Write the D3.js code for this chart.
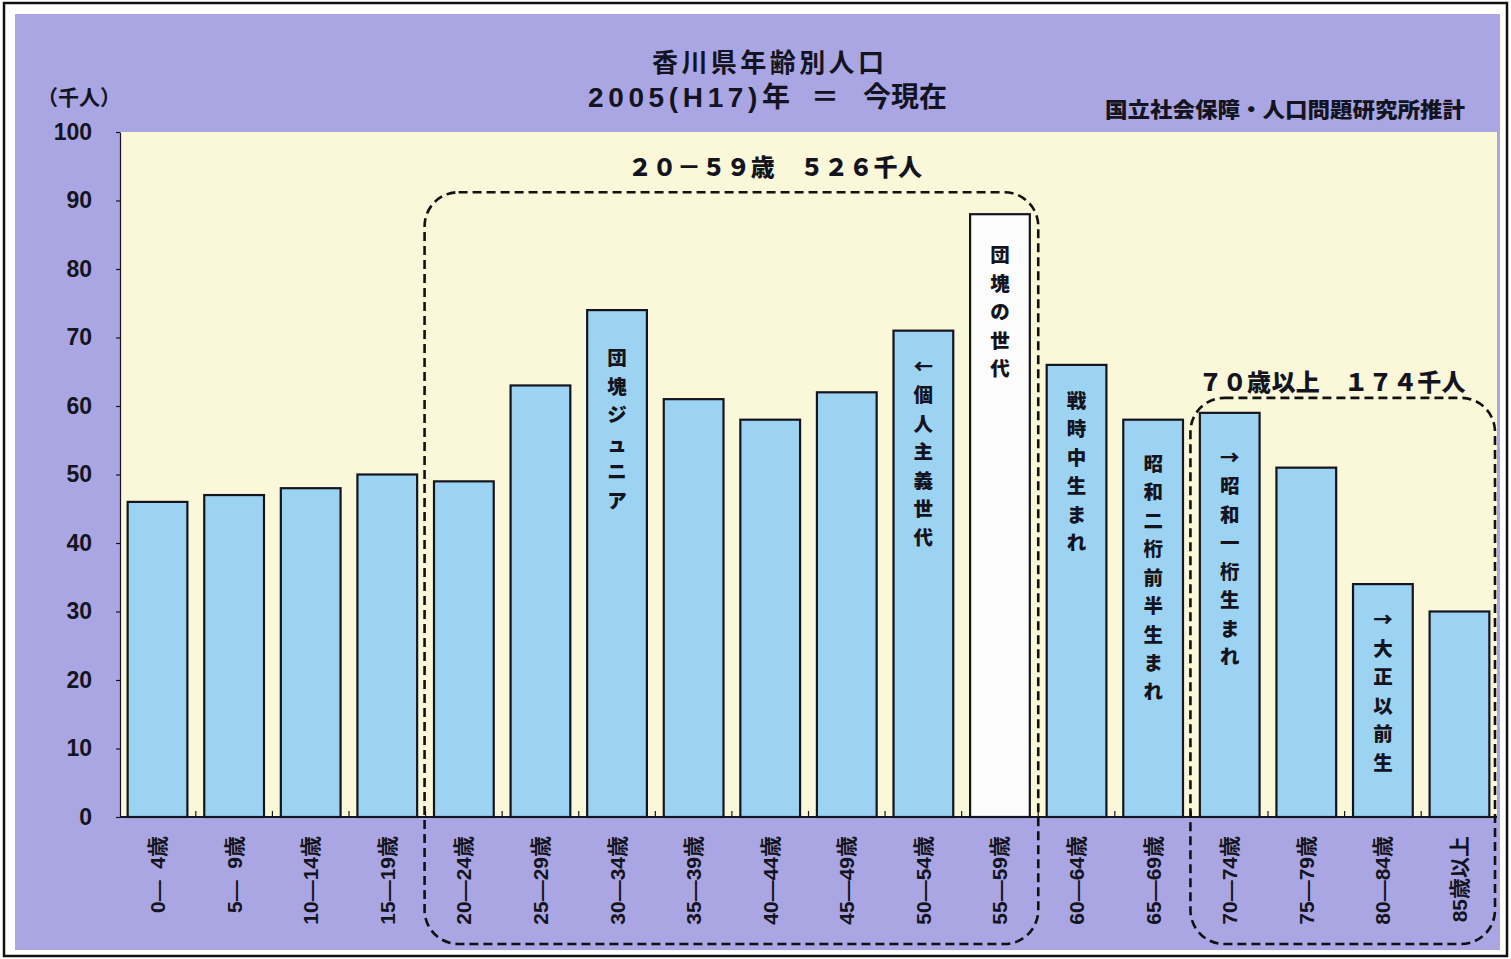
<!DOCTYPE html>
<html lang="ja">
<head>
<meta charset="utf-8">
<title>香川県年齢別人口</title>
<script src="https://cdn.jsdelivr.net/npm/d3@7"></script>
<style>
  html, body { margin: 0; padding: 0; background: #ffffff; }
  svg { display: block; font-family: "Noto Sans CJK JP", "Noto Sans", sans-serif; }
</style>
</head>
<body>
<svg id="chart" width="1511" height="959"></svg>
<script>
// ---- data (thousand persons, 2005) ----
const ageGroups = [
  "0—\u20074歳", "5—\u20079歳", "10—14歳", "15—19歳", "20—24歳", "25—29歳",
  "30—34歳", "35—39歳", "40—44歳", "45—49歳", "50—54歳", "55—59歳",
  "60—64歳", "65—69歳", "70—74歳", "75—79歳", "80—84歳", "85歳以上"
];
const population = [46, 47, 48, 50, 49, 63, 74, 61, 58, 62, 71, 88, 66, 58, 59, 51, 34, 30];
const yTicks = [0, 10, 20, 30, 40, 50, 60, 70, 80, 90, 100];
const highlightGroup = "55—59歳";

// generation names written down inside bars
const generationAges = ["30—34歳", "50—54歳", "55—59歳", "60—64歳", "65—69歳", "70—74歳", "80—84歳"];
const generationNames = ["団塊ジュニア", "←個人主義世代", "団塊の世代", "戦時中生まれ", "昭和二桁前半生まれ", "→昭和一桁生まれ", "→大正以前生"];

// bracketed age spans with their totals
const spanFirst = ["20—24歳", "70—74歳"];
const spanLast = ["55—59歳", "85歳以上"];
const spanNames = ["２０－５９歳", "７０歳以上"];

const titleMain = "香川県年齢別人口";
const titleSub = ["2005(H17)年", "＝", "今現在"];
const unitLabel = "（千人）";
const sourceNote = "国立社会保障・人口問題研究所推計";

// ---- layout ----
const W = 1511, H = 959;
const plot = { left: 120, right: 1497, top: 132, bottom: 817 };
const ink = "#141420";
const latinFont = "'Liberation Sans', 'Noto Sans CJK JP', sans-serif";

const svg = d3.select("#chart");

// page frame and lavender panel
svg.append("rect").attr("x", 4).attr("y", 3).attr("width", W - 8).attr("height", H - 6)
  .attr("fill", "#ffffff").attr("stroke", "#111").attr("stroke-width", 2.5);
svg.append("rect").attr("x", 15).attr("y", 14).attr("width", 1485).attr("height", 936)
  .attr("fill", "#a9a6e3");

const x = d3.scaleBand().domain(ageGroups)
  .range([plot.left, plot.right]).paddingInner(0.22).paddingOuter(0.1);
const y = d3.scaleLinear().domain([0, 100]).range([plot.bottom, plot.top]);
const gapHalf = x.step() * x.paddingInner() / 2;
const leftEdge = c => x(c) - gapHalf;
const rightEdge = c => x(c) + x.bandwidth() + gapHalf;

// plot background
svg.append("rect")
  .attr("x", plot.left).attr("y", plot.top)
  .attr("width", plot.right - plot.left).attr("height", plot.bottom - plot.top)
  .attr("fill", "#fbf8da");

// titles
svg.append("text").attr("x", 768).attr("y", 60).attr("text-anchor", "middle")
  .attr("dominant-baseline", "central").attr("font-size", 26).attr("font-weight", 700)
  .attr("fill", ink).attr("textLength", 232).attr("lengthAdjust", "spacing")
  .text(titleMain);
const subX = [588, 825, 863], subLen = [202, null, 84], subAnchor = ["start", "middle", "start"];
titleSub.forEach((s, k) => {
  const t = svg.append("text").attr("x", subX[k]).attr("y", 97)
    .attr("text-anchor", subAnchor[k]).attr("dominant-baseline", "central")
    .attr("font-family", latinFont).attr("font-size", 28).attr("font-weight", 700)
    .attr("fill", ink).text(s);
  if (subLen[k]) t.attr("textLength", subLen[k]).attr("lengthAdjust", "spacing");
});
svg.append("text").attr("x", 79).attr("y", 96).attr("text-anchor", "middle")
  .attr("dominant-baseline", "central").attr("font-size", 21).attr("font-weight", 700)
  .attr("fill", ink).text(unitLabel);
svg.append("text").attr("x", 1465).attr("y", 108).attr("text-anchor", "end")
  .attr("dominant-baseline", "central").attr("font-size", 21).attr("font-weight", 900)
  .attr("fill", ink).attr("textLength", 360).attr("lengthAdjust", "spacingAndGlyphs")
  .text(sourceNote);

// y axis
const yAxis = svg.append("g").attr("transform", `translate(${plot.left},0)`)
  .call(d3.axisLeft(y).tickValues(yTicks).tickSize(4).tickSizeOuter(0).tickPadding(24));
yAxis.select(".domain").attr("stroke", ink).attr("stroke-width", 1.2);
yAxis.selectAll(".tick line").attr("stroke", ink).attr("stroke-width", 1.2);
yAxis.selectAll(".tick text")
  .attr("font-family", latinFont)
  .attr("font-size", 23).attr("font-weight", 700).attr("fill", ink);

// bars
svg.append("g").selectAll("rect").data(ageGroups).join("rect")
  .attr("x", d => x(d))
  .attr("y", (d, i) => y(population[i]))
  .attr("width", x.bandwidth())
  .attr("height", (d, i) => y(0) - y(population[i]))
  .attr("fill", d => d === highlightGroup ? "#fdfcfd" : "#9dd3f2")
  .attr("stroke", ink).attr("stroke-width", 2.2);

// baseline with category dividers
svg.append("line").attr("x1", plot.left).attr("x2", plot.right)
  .attr("y1", y(0)).attr("y2", y(0)).attr("stroke", ink).attr("stroke-width", 2.2);
svg.append("g").selectAll("line").data(ageGroups.slice(1)).join("line")
  .attr("x1", d => leftEdge(d)).attr("x2", d => leftEdge(d))
  .attr("y1", y(0)).attr("y2", y(0) - 6)
  .attr("stroke", ink).attr("stroke-width", 1.2);

// category labels, rotated
svg.append("g").selectAll("text").data(ageGroups).join("text")
  .attr("transform", d => `translate(${x(d) + x.bandwidth() / 2},836) rotate(-90)`)
  .attr("text-anchor", "end").attr("dominant-baseline", "central")
  .attr("font-family", latinFont)
  .attr("font-size", 21).attr("font-weight", 700).attr("fill", ink)
  .text(d => d);

// generation names, stacked one character per line
const labelInset = [46, 34, 39, 34, 42, 43, 34];
const charStep = 28.5;
generationAges.forEach((age, k) => {
  const i = ageGroups.indexOf(age);
  const cx = x(age) + x.bandwidth() / 2;
  const y0 = y(population[i]) + labelInset[k];
  svg.append("text")
    .attr("text-anchor", "middle").attr("dominant-baseline", "central")
    .attr("font-size", 19.5).attr("font-weight", 900).attr("fill", ink)
    .selectAll("tspan").data(Array.from(generationNames[k])).join("tspan")
    .attr("x", cx).attr("y", (ch, j) => y0 + j * charStep)
    .text(ch => ch);
});

// dashed brackets round the age spans, with totals
const toWide = n => String(n).replace(/[0-9]/g, c => String.fromCharCode(c.charCodeAt(0) + 0xFEE0));
const boxBottom = 944;
const boxTopPad = [22, 15];
const spanLabelX = [775, 1332];
const spanLabelWidth = [294, 267];
const spanLabelRise = [27, 17];
spanFirst.forEach((first, k) => {
  const a = ageGroups.indexOf(first), b = ageGroups.indexOf(spanLast[k]);
  const vals = population.slice(a, b + 1);
  const total = d3.sum(vals);
  const x0 = leftEdge(first) - 1;
  const x1 = Math.min(rightEdge(spanLast[k]), plot.right - 2);
  const top = y(d3.max(vals)) - boxTopPad[k];
  svg.append("rect")
    .attr("x", x0).attr("y", top).attr("width", x1 - x0).attr("height", boxBottom - top)
    .attr("rx", 34).attr("ry", 34)
    .attr("fill", "none").attr("stroke", "#111").attr("stroke-width", 2.6)
    .attr("stroke-dasharray", "9 5");
  svg.append("text")
    .attr("x", spanLabelX[k]).attr("y", top - spanLabelRise[k])
    .attr("text-anchor", "middle").attr("dominant-baseline", "central")
    .attr("font-size", 24).attr("font-weight", 900).attr("fill", ink)
    .attr("textLength", spanLabelWidth[k]).attr("lengthAdjust", "spacing")
    .text(`${spanNames[k]}　${toWide(total)}千人`);
});
</script>
</body>
</html>
